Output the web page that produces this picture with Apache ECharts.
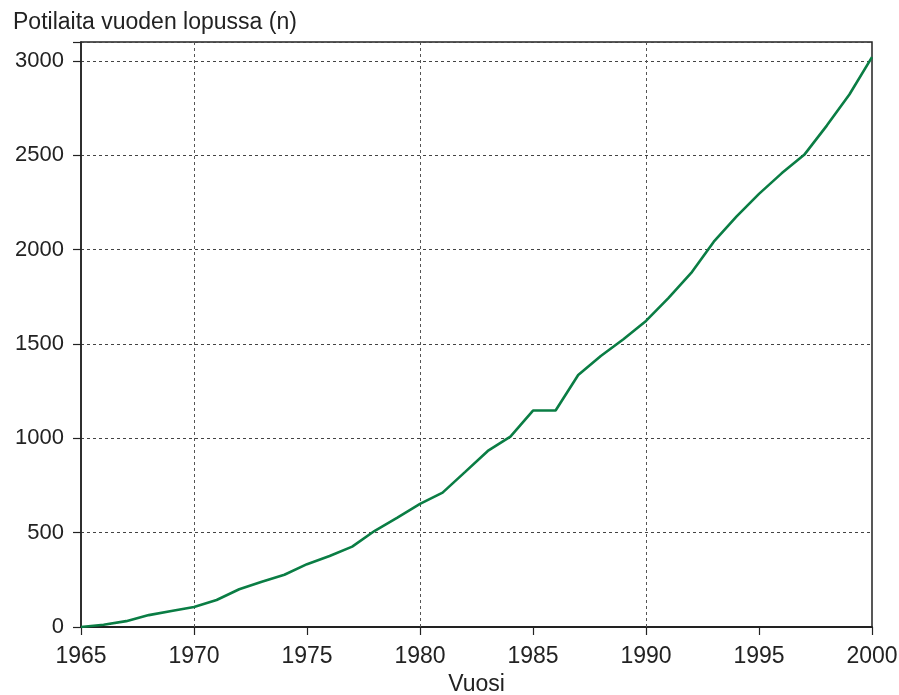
<!DOCTYPE html>
<html>
<head>
<meta charset="utf-8">
<script src="https://cdn.jsdelivr.net/npm/echarts@6/dist/echarts.min.js"></script>
<style>
  html, body { margin: 0; padding: 0; background: #fff; }
  #chart { width: 899px; height: 695px; }
</style>
</head>
<body>
<div id="chart"></div>
<script>
// 数据
const years = [1965, 1966, 1967, 1968, 1969, 1970, 1971, 1972, 1973, 1974,
  1975, 1976, 1977, 1978, 1979, 1980, 1981, 1982, 1983, 1984,
  1985, 1986, 1987, 1988, 1989, 1990, 1991, 1992, 1993, 1994,
  1995, 1996, 1997, 1998, 1999, 2000];
const patients = [0, 12, 31, 63, 85, 106, 143, 200, 240, 277,
  333, 376, 426, 510, 580, 652, 712, 822, 933, 1009,
  1147, 1147, 1335, 1436, 1525, 1622, 1744, 1876, 2042, 2175,
  2295, 2404, 2502, 2657, 2822, 3020];
const yTicks = [0, 500, 1000, 1500, 2000, 2500, 3000];
const gridYears = [1970, 1980, 1990];

const chart = echarts.init(document.getElementById('chart'));
const font = 'Liberation Sans, Arial, sans-serif';

const option = {
  animation: false,
  title: {
    text: 'Potilaita vuoden lopussa (n)',
    left: 8,
    top: 6,
    textStyle: { fontFamily: font, fontSize: 23, fontWeight: 'normal', color: '#222' }
  },
  grid: {
    left: 81, right: 27, top: 42, bottom: 68,
    outerBoundsMode: 'none',
    containLabel: false,
    show: true, borderColor: '#222', borderWidth: 1.5
  },
  xAxis: {
    type: 'value',
    min: 1965, max: 2000, interval: 5,
    name: 'Vuosi',
    nameLocation: 'middle',
    nameGap: 45,
    nameTextStyle: { fontFamily: font, fontSize: 23, color: '#222' },
    axisLine: { lineStyle: { color: '#222', width: 2 } },
    axisTick: { inside: false, length: 8, lineStyle: { color: '#222', width: 1.2 } },
    axisLabel: { fontFamily: font, fontSize: 23, color: '#222', margin: 18, formatter: v => String(v) },
    splitLine: { show: false }
  },
  yAxis: {
    type: 'value',
    min: 0, max: 3100, interval: 500,
    axisLine: { show: true, lineStyle: { color: '#222', width: 1.5 } },
    axisTick: { show: true, length: 8, lineStyle: { color: '#222', width: 1.2 } },
    axisLabel: {
      fontFamily: font, fontSize: 22, color: '#222', margin: 17,
      formatter: v => (yTicks.indexOf(v) >= 0 ? String(v) : '')
    },
    splitLine: { show: true, lineStyle: { color: '#444', type: [3, 3], width: 1 } }
  },
  series: [{
    type: 'line',
    data: years.map((y, i) => [y, patients[i]]),
    showSymbol: false,
    lineStyle: { color: '#0a7d44', width: 2.6 },
    itemStyle: { color: '#0a7d44' },
    z: 5,
    markLine: {
      silent: true,
      symbol: 'none',
      label: { show: false },
      lineStyle: { color: '#555', type: [3, 3], width: 1 },
      data: gridYears.map(y => ({ xAxis: y }))
    }
  }]
};

chart.setOption(option);
</script>
</body>
</html>
